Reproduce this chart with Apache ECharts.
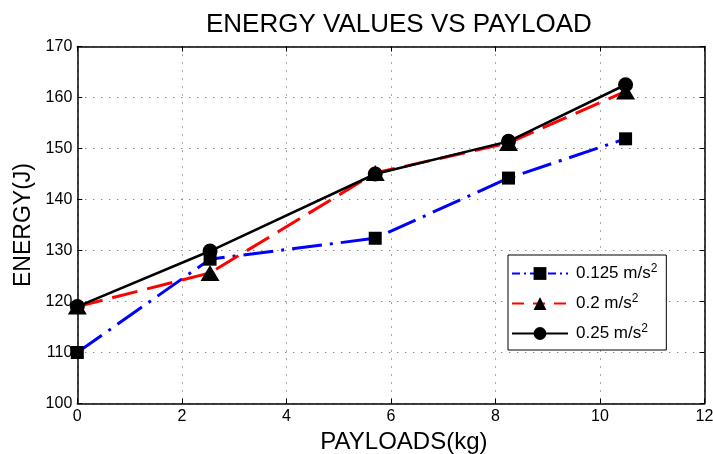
<!DOCTYPE html>
<html>
<head>
<meta charset="utf-8">
<script src="https://cdn.jsdelivr.net/npm/echarts@6/dist/echarts.min.js"></script>
<style>
  html, body { margin: 0; padding: 0; background: #fff; }
  #chart { width: 713px; height: 454px; }
</style>
</head>
<body>
<div id="chart"></div>
<script>
// Payload (kg) at which each energy value was measured
const payloads = [0, 2.54, 5.70, 8.25, 10.49];

// Energy (J) for each acceleration setting
const energyAcc0125 = [110.0, 128.3, 132.4, 144.2, 151.9];
const energyAcc02   = [119.0, 125.6, 145.2, 151.1, 161.2];
const energyAcc025  = [119.0, 129.9, 145.0, 151.4, 162.5];

// Legend labels (acceleration values, unit drawn as m/s²)
const accelLabels = ['0.125', '0.2', '0.25'];

const FONT = 'Liberation Sans, Arial, Helvetica, sans-serif';

function pairs(xs, ys) {
  return xs.map((x, i) => [x, ys[i]]);
}

const chart = echarts.init(document.getElementById('chart'), null, { renderer: 'canvas' });

const gridLine = { show: true, lineStyle: { color: '#555', width: 1, type: [1, 7] } };
const frameLine = { show: true, onZero: false, lineStyle: { color: '#000', width: 1.5 } };
const innerTick = { show: true, inside: true, length: 5, lineStyle: { color: '#000' } };

chart.setOption({
  animation: false,
  backgroundColor: '#fff',
  title: {
    text: 'ENERGY VALUES VS PAYLOAD',
    left: 201,
    top: 7,
    textStyle: { fontFamily: FONT, fontSize: 26, fontWeight: 'normal', color: '#000' }
  },
  grid: { left: 77.3, right: 8.5, top: 46.5, bottom: 50.5, outerBoundsMode: 'none' },
  legend: {
    orient: 'vertical',
    left: 508,
    top: 255,
    padding: [8, 9, 6, 3],
    itemGap: 9,
    itemWidth: 56,
    itemHeight: 16,
    backgroundColor: '#fff',
    borderColor: '#000',
    borderWidth: 1,
    data: [
      { name: accelLabels[0], lineStyle: { type: [8, 4, 2, 4] } },
      { name: accelLabels[1], lineStyle: { type: [12, 9] } },
      { name: accelLabels[2] }
    ],
    formatter: name => '{a|' + name + ' m/s}{s|2}',
    textStyle: {
      fontFamily: FONT,
      color: '#000',
      padding: [0, 0, 0, 3],
      rich: {
        a: { fontFamily: FONT, fontSize: 17, color: '#000', lineHeight: 20 },
        s: { fontFamily: FONT, fontSize: 12, color: '#000', lineHeight: 20, padding: [0, 0, 9, 0] }
      }
    }
  },
  xAxis: [
    {
      type: 'value',
      position: 'bottom',
      min: 0, max: 12, interval: 2,
      name: 'PAYLOADS(kg)',
      nameLocation: 'middle',
      nameGap: 27,
      nameTextStyle: { fontFamily: FONT, fontSize: 24, color: '#000', padding: [0, 0, 0, 26] },
      axisLine: frameLine,
      axisTick: innerTick,
      axisLabel: { fontFamily: FONT, fontSize: 16, color: '#000', margin: 5 },
      splitLine: gridLine
    },
    {
      type: 'value',
      position: 'top',
      min: 0, max: 12, interval: 2,
      axisLine: frameLine,
      axisTick: innerTick,
      axisLabel: { show: false },
      splitLine: { show: false }
    }
  ],
  yAxis: [
    {
      type: 'value',
      position: 'left',
      min: 100, max: 170, interval: 10,
      name: 'ENERGY(J)',
      nameLocation: 'middle',
      nameGap: 41,
      nameTextStyle: { fontFamily: FONT, fontSize: 23, color: '#000' },
      axisLine: frameLine,
      axisTick: innerTick,
      axisLabel: { fontFamily: FONT, fontSize: 16, color: '#000', margin: 5 },
      splitLine: gridLine
    },
    {
      type: 'value',
      position: 'right',
      min: 100, max: 170, interval: 10,
      axisLine: frameLine,
      axisTick: innerTick,
      axisLabel: { show: false },
      splitLine: { show: false }
    }
  ],
  series: [
    {
      name: accelLabels[0],
      type: 'line',
      xAxisIndex: 0, yAxisIndex: 0,
      data: pairs(payloads, energyAcc0125),
      symbol: 'rect',
      symbolSize: 13,
      itemStyle: { color: '#000' },
      lineStyle: { color: '#0000ff', width: 3, type: [30, 8, 3, 8] },
      z: 2
    },
    {
      name: accelLabels[1],
      type: 'line',
      xAxisIndex: 0, yAxisIndex: 0,
      data: pairs(payloads, energyAcc02),
      symbol: 'triangle',
      symbolSize: [19, 16],
      itemStyle: { color: '#000' },
      lineStyle: { color: '#ff0000', width: 3, type: [26, 10] },
      z: 3
    },
    {
      name: accelLabels[2],
      type: 'line',
      xAxisIndex: 0, yAxisIndex: 0,
      data: pairs(payloads, energyAcc025),
      symbol: 'circle',
      symbolSize: 15,
      itemStyle: { color: '#000' },
      lineStyle: { color: '#000', width: 2.5, type: 'solid' },
      z: 4
    }
  ]
});
</script>
</body>
</html>
